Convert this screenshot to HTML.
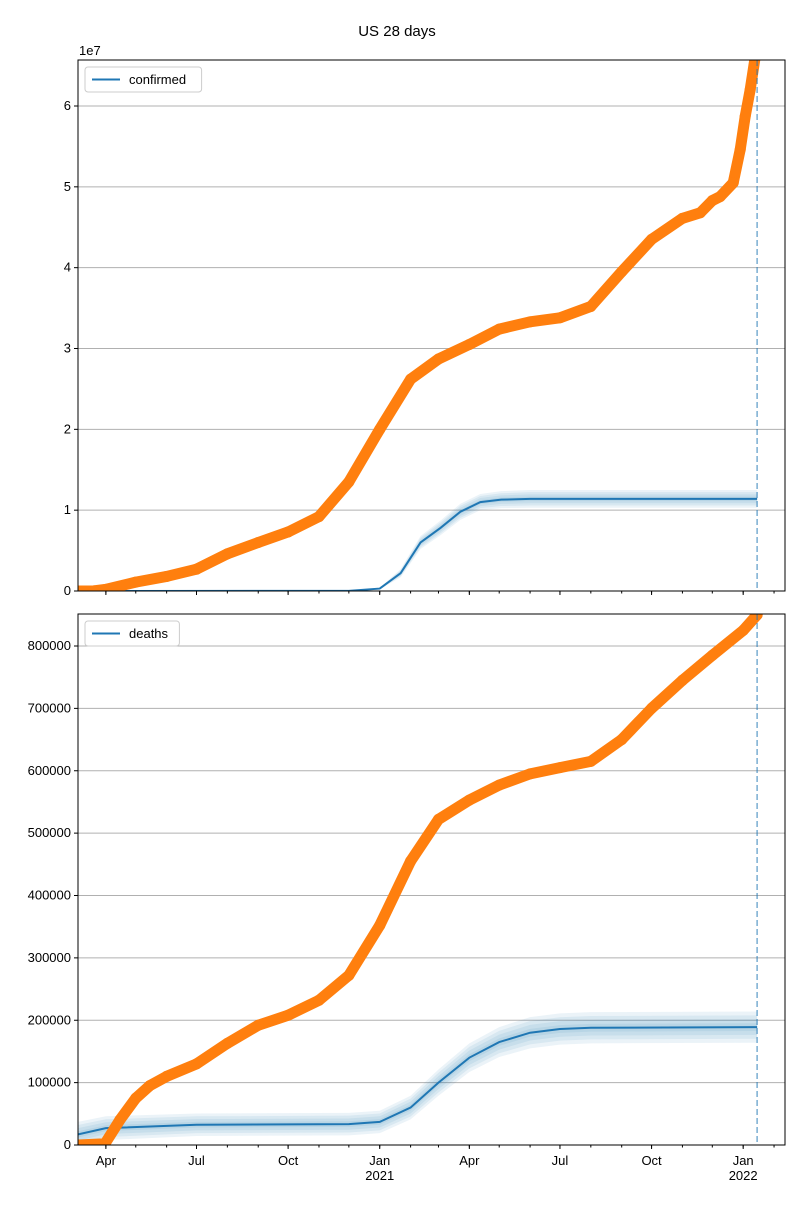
<!DOCTYPE html>
<html><head><meta charset="utf-8"><style>
body{margin:0;background:#fff}
svg{font-family:"Liberation Sans","DejaVu Sans",sans-serif}
</style></head><body>
<svg id="fig" width="800" height="1200" xmlns="http://www.w3.org/2000/svg">
<rect width="800" height="1200" fill="#fff"/>
<text x="397" y="36" font-size="15" text-anchor="middle">US 28 days</text>
</svg>
<script>
// ---- data ----
const confDates=["2020-03-04","2020-03-20","2020-04-01","2020-05-01","2020-06-01","2020-07-01","2020-08-01","2020-09-01","2020-10-01","2020-11-01","2020-12-01","2021-01-01","2021-02-01","2021-03-01","2021-04-01","2021-05-01","2021-06-01","2021-07-01","2021-08-01","2021-09-01","2021-10-01","2021-11-01","2021-11-19","2021-12-01","2021-12-09","2021-12-22","2021-12-29","2022-01-03","2022-01-08","2022-01-13","2022-01-15"];
const confValues=[0,0.02e6,0.2e6,1.1e6,1.8e6,2.7e6,4.6e6,6.0e6,7.3e6,9.2e6,13.5e6,20e6,26.2e6,28.7e6,30.5e6,32.4e6,33.3e6,33.8e6,35.2e6,39.5e6,43.5e6,46.1e6,46.8e6,48.3e6,48.8e6,50.5e6,54.6e6,58.7e6,62e6,66e6,67e6];
const confFitDates=["2020-03-04","2020-12-01","2021-01-01","2021-01-22","2021-02-11","2021-03-03","2021-03-23","2021-04-12","2021-05-03","2021-06-01","2022-01-15"];
const confFitValues=[0,0.02e6,0.3e6,2.2e6,6.0e6,7.8e6,9.8e6,11.0e6,11.3e6,11.4e6,11.4e6];
const confFitHalf=[0,0.01e6,0.1e6,0.5e6,0.8e6,0.9e6,1.0e6,1.0e6,1.05e6,1.1e6,1.1e6];
const deathDates=["2020-03-04","2020-03-31","2020-04-15","2020-05-01","2020-05-15","2020-06-01","2020-07-01","2020-08-01","2020-09-01","2020-10-01","2020-11-01","2020-12-01","2021-01-01","2021-02-01","2021-03-01","2021-04-01","2021-05-01","2021-06-01","2021-07-01","2021-08-01","2021-09-01","2021-10-01","2021-11-01","2021-12-01","2022-01-01","2022-01-15"];
const deathValues=[0,2000,40000,75000,95000,110000,130000,163000,192000,208000,232000,272000,352000,455000,522000,553000,577000,595000,605000,615000,650000,700000,745000,785000,825000,850000];
const deathFitDates=["2020-03-04","2020-04-01","2020-07-01","2020-12-01","2021-01-01","2021-02-01","2021-03-01","2021-04-01","2021-05-01","2021-06-01","2021-07-01","2021-08-01","2022-01-15"];
const deathFitValues=[17000,27000,32500,33500,37000,60000,100000,140000,165000,180000,186000,188000,189000];
const deathFitHalf=[20000,19000,18000,18000,18000,19000,21000,23000,24000,25000,25000,25000,25000];
const confTicks=[0,1e7,2e7,3e7,4e7,5e7,6e7];
const confTickLabels=["0","1","2","3","4","5","6"];
const deathTicks=[0,100000,200000,300000,400000,500000,600000,700000,800000];
const deathTickLabels=["0","100000","200000","300000","400000","500000","600000","700000","800000"];
const majorTicks=["2020-04-01","2020-07-01","2020-10-01","2021-01-01","2021-04-01","2021-07-01","2021-10-01","2022-01-01"];
const majorLabels=["Apr","Jul","Oct","Jan|2021","Apr","Jul","Oct","Jan|2022"];
const vlineDate="2022-01-15";

// ---- axes ----
const NS="http://www.w3.org/2000/svg";
const fig=document.getElementById('fig');
const X0=78,X1=785;
const D0=Date.UTC(2020,2,4),D1=Date.UTC(2022,1,12);
const t=s=>{const [a,b,c]=s.split('-').map(Number);return Date.UTC(a,b-1,c);};
const xs=s=>X0+(t(s)-D0)/(D1-D0)*(X1-X0);
function el(tag,attrs,parent){const e=document.createElementNS(NS,tag);for(const k in attrs)e.setAttribute(k,attrs[k]);(parent||fig).appendChild(e);return e;}

function panel(name,top,bot,ymax,ticks,tlabels,dates,vals,fd,fv,fh,legend,showLabels){
  const ys=v=>bot-(v/ymax)*(bot-top);
  const g=el('g',{});
  
  
  const cid='clip-'+name;
  const cp=el('clipPath',{id:cid},g);el('rect',{x:X0,y:top,width:X1-X0,height:bot-top},cp);
  ticks.forEach((v,i)=>{
    const gl=el('line',{x1:X0,x2:X1,y1:ys(v),y2:ys(v),stroke:'#b0b0b0','stroke-width':1},g);
    
    
    el('line',{x1:X0-4,x2:X0,y1:ys(v),y2:ys(v),stroke:'#000'},g);
    const tx=el('text',{x:X0-7,y:ys(v)+4,'font-size':13,'text-anchor':'end'},g);
    tx.textContent=tlabels[i];
    
    
  });
  const cg=el('g',{'clip-path':'url(#'+cid+')'},g);
  // bands
  [1,0.75,0.5,0.25].forEach(f=>{
    let up=fd.map((d,i)=>xs(d)+','+ys(fv[i]+fh[i]*f));
    let dn=fd.map((d,i)=>xs(d)+','+ys(Math.max(0,fv[i]-fh[i]*f))).reverse();
    const p=el('polygon',{points:up.concat(dn).join(' '),fill:'#1f77b4','fill-opacity':0.09},cg);
    
    
  });
  const fl=el('polyline',{points:fd.map((d,i)=>xs(d)+','+ys(fv[i])).join(' '),fill:'none',stroke:'#1f77b4','stroke-width':2},cg);
  
  
  const ob=el('polyline',{points:dates.map((d,i)=>xs(d)+','+ys(vals[i])).join(' '),fill:'none',stroke:'#ff7f0e','stroke-width':11,'stroke-linejoin':'round','stroke-linecap':'round'},cg);
  
  
  dates.forEach((d,i)=>{
    const c=el('circle',{cx:xs(d),cy:ys(vals[i]),r:5.5,fill:'#ff7f0e'},cg);
    
    
  });
  const vl=el('line',{x1:xs(vlineDate),x2:xs(vlineDate),y1:top,y2:bot,stroke:'#1f77b4','stroke-opacity':0.6,'stroke-width':1.5,'stroke-dasharray':'6,3'},g);
  
  
  // x ticks
  for(let y=2020;y<=2022;y++)for(let m=0;m<12;m++){
    const d=Date.UTC(y,m,1);if(d<D0||d>D1)continue;
    const x=X0+(d-D0)/(D1-D0)*(X1-X0);
    el('line',{x1:x,x2:x,y1:bot,y2:bot+2.5,stroke:'#000'},g);
  }
  majorTicks.forEach((d,i)=>{
    el('line',{x1:xs(d),x2:xs(d),y1:bot,y2:bot+4,stroke:'#000'},g);
    if(showLabels){
      const parts=majorLabels[i].split('|');
      parts.forEach((p,j)=>{
        const tx=el('text',{x:xs(d),y:bot+20+j*15,'font-size':13,'text-anchor':'middle'},g);
        tx.textContent=p;
        
        
      });
    }
  });
  el('rect',{x:X0,y:top,width:X1-X0,height:bot-top,fill:'none',stroke:'#000','stroke-width':1},g);
  // legend
  const lg=el('g',{},g);
  
  
  const w=legend.length*7.4+50;
  el('rect',{x:X0+7,y:top+7,width:w,height:25,rx:3,fill:'#fff','fill-opacity':0.8,stroke:'#ccc'},lg);
  el('line',{x1:X0+14,x2:X0+42,y1:top+19.5,y2:top+19.5,stroke:'#1f77b4','stroke-width':2},lg);
  const lt=el('text',{x:X0+51,y:top+24,'font-size':13},lg);
  lt.textContent=legend;
  return ys;
}
panel('confirmed',60,591,6e7*(591-60)/(591-106),confTicks,confTickLabels,confDates,confValues,confFitDates,confFitValues,confFitHalf,'confirmed',false);
const oe=el('text',{x:79,y:55,'font-size':13});oe.textContent='1e7';


panel('deaths',614,1145,800000*(1145-614)/(1145-646),deathTicks,deathTickLabels,deathDates,deathValues,deathFitDates,deathFitValues,deathFitHalf,'deaths',true);
</script>
</body></html>
